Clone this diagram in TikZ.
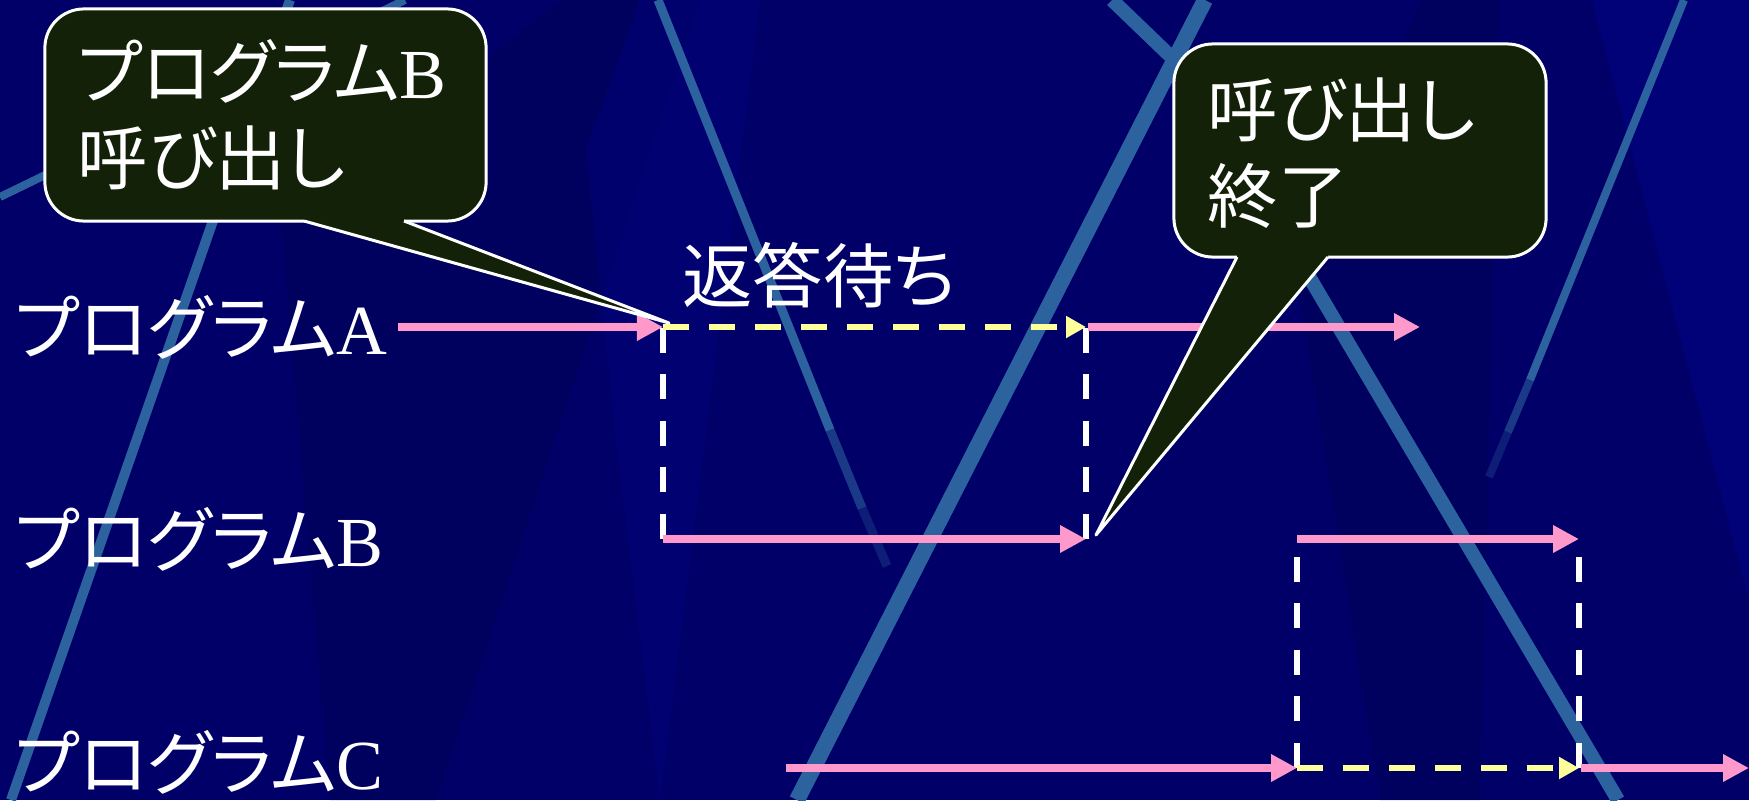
\documentclass[tikz,border=0pt]{standalone}
\usepackage{fontspec}
\setmainfont{Liberation Serif}
\newfontfamily\jp[RawFeature=+palt]{Noto Sans CJK JP}
\usetikzlibrary{arrows.meta}
\definecolor{bgnavy}{RGB}{0,0,104}
\definecolor{bgdark}{RGB}{0,0,90}
\definecolor{bglight}{RGB}{2,2,120}
\definecolor{stripeblue}{RGB}{44,98,158}
\definecolor{pinkarrow}{RGB}{255,153,204}
\definecolor{yellowarrow}{RGB}{255,255,153}
\definecolor{calloutfill}{RGB}{19,33,8}
\begin{document}
\begin{tikzpicture}[x=0.01cm,y=-0.01cm,
  bgline/.style={draw=stripeblue, line cap=butt},
  lbl/.style={text=white, inner sep=0pt, font=\fontsize{20}{24.5}\selectfont},
  run/.style={draw=pinkarrow, line width=0.08cm, -{Triangle[length=0.26cm,width=0.26cm]}},
  wait/.style={draw=yellowarrow, line width=0.065cm, dash pattern=on 0.26cm off 0.20cm, -{Triangle[length=0.2cm,width=0.21cm]}},
  link/.style={draw=white, line width=0.055cm, dash pattern=on 0.25cm off 0.215cm},
  callbox/.style={draw=white, line width=0.03cm, fill=calloutfill, rounded corners=0.39cm, inner sep=0pt},
  pointerfill/.style={fill=calloutfill},
  pointerline/.style={draw=white, line width=0.03cm, line join=round},
]
\useasboundingbox (0,0) rectangle (1749,800);
% background
\fill[bgnavy] (0,0) rectangle (1749,800);
\begin{scope}
\clip (0,0) rectangle (1749,800);
\fill[bglight] (1592,0) -- (1760,0) -- (1760,800) -- (1801,800) -- cycle;
\fill[bgdark,opacity=0.7] (281,223) -- (560,0) -- (700,0) -- (436,800) -- (330,800) -- cycle;
\fill[bglight,opacity=0.6] (586,150) -- (640,0) -- (760,0) -- (660,800) -- (617,450) -- cycle;
\fill[bgdark,opacity=0.6] (1300,300) -- (1420,0) -- (1500,0) -- (1480,800) -- (1380,800) -- cycle;
% light blue stripes
\draw[bgline, line width=0.09cm] (658,0) -- (830,430);
\draw[bgline, line width=0.09cm, opacity=0.6] (830,430) -- (862,508);
\draw[bgline, line width=0.09cm, opacity=0.3] (862,508) -- (887,566);
\draw[bgline, line width=0.16cm] (1205,0) -- (797,800);
\draw[bgline, line width=0.14cm] (1112,0) -- (1190,75) -- (1618,800);
\draw[bgline, line width=0.08cm] (1684,0) -- (1530,380);
\draw[bgline, line width=0.08cm, opacity=0.6] (1530,380) -- (1508,432);
\draw[bgline, line width=0.08cm, opacity=0.3] (1508,432) -- (1489,477);
\draw[bgline, line width=0.10cm] (290,0) -- (11,800);
\draw[bgline, line width=0.08cm] (0,197) -- (405,0);
\end{scope}

% row labels
\node[lbl, anchor=west] (lA) at (14,327) {{\jp プログラム}A};
\node[lbl, anchor=west] (lB) at (14,539) {{\jp プログラム}B};
\node[lbl, anchor=west] (lC) at (14,762) {{\jp プログラム}C};
\node[lbl] (wait) at (819,275) {\jp 返答待ち};

% coordinates of the time lines
\coordinate (A0) at (398,327);
\coordinate (A1) at (663,327);
\coordinate (A2) at (1086,327);
\coordinate (A3) at (1088,327);
\coordinate (A4) at (1420,327);
\coordinate (B0) at (663,539);
\coordinate (B1) at (1086,539);
\coordinate (B2) at (1297,539);
\coordinate (B3) at (1579,539);
\coordinate (C0) at (786,768);
\coordinate (C1) at (1297,768);
\coordinate (C2) at (1579,768);
\coordinate (C3) at (1581,768);
\coordinate (C4) at (1749,768);

% dashed verticals
\draw[link] (B0) -- (A1);
\draw[link] (B1) -- (A2);
\draw[link] (C1) -- (B2);
\draw[link] (C2) -- (B3);

% arrows
\draw[run] (A0) -- (A1);
\draw[wait] (A1) -- (A2);
\draw[run] (A3) -- (A4);
\draw[run] (B0) -- (B1);
\draw[run] (B2) -- (B3);
\draw[run] (C0) -- (C1);
\draw[wait] (C1) -- (C2);
\draw[run] (C3) -- (C4);

% callout 1
\node[callbox, minimum width=4.41cm, minimum height=2.12cm] (cb1) at (265.5,115) {};
\coordinate (p1a) at (304,221);
\coordinate (p1b) at (404,221);
\coordinate (t1) at (669,323);
\fill[pointerfill] (t1) -- (p1a) -- (304,216) -- (404,216) -- (p1b) -- cycle;
\draw[pointerline] (p1a) -- (t1) -- (p1b);
\node[lbl, align=left, anchor=west] (ct1) at (77,115) {{\jp プログラム}B\\{\jp 呼び出し}};

% callout 2
\node[callbox, minimum width=3.72cm, minimum height=2.13cm] (cb2) at (1360,150.5) {};
\coordinate (p2a) at (1237,257);
\coordinate (p2b) at (1328,257);
\coordinate (t2) at (1096,535);
\fill[pointerfill] (t2) -- (p2a) -- (1237,252) -- (1328,252) -- (p2b) -- cycle;
\draw[pointerline] (p2a) -- (t2) -- (p2b);
\node[lbl, align=left, anchor=west] (ct2) at (1207,153) {\jp 呼び出し\\\jp 終了};
\end{tikzpicture}
\end{document}
